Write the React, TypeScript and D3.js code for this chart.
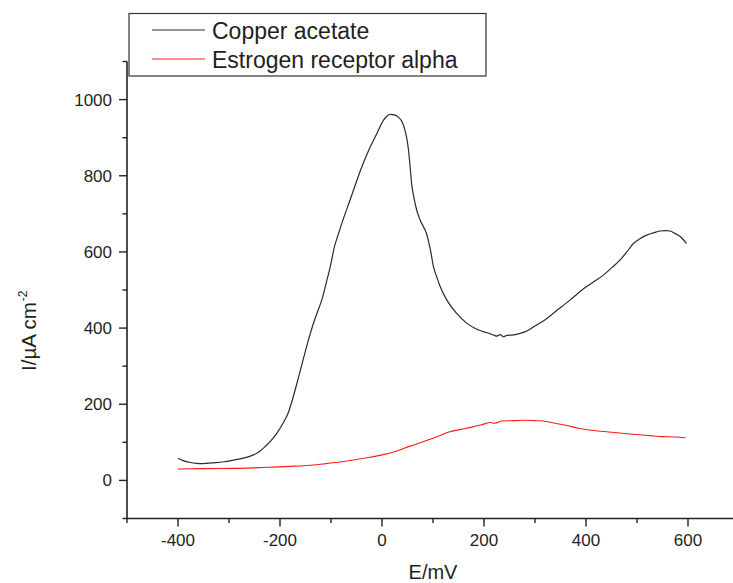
import React from "react";
import * as d3 from "d3";

const copperE = [-400, -390, -375, -364, -350, -334, -310, -289, -270, -252, -240, -229, -218, -206, -195, -184, -175, -165, -155, -145, -135, -125, -118, -110, -100, -93, -86, -75, -63, -50, -37, -24, -10, 3, 10, 16, 24, 32, 40, 45, 49, 52, 55, 58, 63, 68, 75, 88, 95, 101, 108, 114, 127, 146, 166, 186, 200, 212, 220, 225, 232, 238, 245, 258, 271, 285, 303, 320, 336, 352, 369, 385, 401, 418, 434, 450, 467, 480, 493, 505, 519, 532, 545, 555, 565, 575, 584, 591, 597];
const copperI = [58, 52, 47, 45, 44, 46, 49, 54, 59, 67, 76, 89, 104, 124, 148, 177, 215, 264, 315, 365, 410, 448, 474, 515, 570, 615, 645, 690, 735, 785, 832, 873, 911, 946, 957, 961, 960, 954, 940, 920, 895, 867, 825, 780, 740, 710, 683, 645, 605, 561, 532, 509, 474, 439, 413, 397, 390, 385, 381, 379, 383, 377, 381, 382, 386, 393, 408, 422, 439, 456, 474, 492, 509, 524, 539, 558, 579, 600, 622, 634, 644, 650, 655, 656, 655, 648, 641, 632, 622];

const estrogenE = [-400, -350, -289, -250, -214, -180, -147, -110, -79, -50, -27, 0, 26, 55, 86, 110, 131, 155, 176, 195, 213, 220, 235, 260, 280, 300, 310, 340, 360, 385, 415, 445, 475, 505, 530, 550, 575, 595];
const estrogenI = [30, 31, 31.5, 33, 35, 37, 39, 44, 49, 55, 60, 67, 76, 90, 104, 116, 127, 134, 140, 146, 152, 150, 156, 157, 158, 157, 156.5, 150, 145, 137, 131, 127, 123, 120, 117, 115, 114, 112];

const xMajorTicks = [-400, -200, 0, 200, 400, 600];
const xMinorTicks = [-500, -300, -100, 100, 300, 500, 700];
const yMajorTicks = [0, 200, 400, 600, 800, 1000];
const yMinorTicks = [-100, 100, 300, 500, 700, 900, 1100];

const seriesNames = ["Copper acetate", "Estrogen receptor alpha"];
const seriesColors = ["#2b2b2b", "#ff1a1a"];

const FONT = "'Liberation Sans', Arial, sans-serif";
const TXT = "#231f20";

export default function App() {
  const x = d3.scaleLinear().domain([-500, 700]).range([127, 739]);
  const y = d3.scaleLinear().domain([-100, 1100]).range([518.5, 61.5]);
  const line = d3
    .line<[number, number]>()
    .x((d) => x(d[0]))
    .y((d) => y(d[1]))
    .curve(d3.curveMonotoneX);

  const copper: [number, number][] = copperE.map((e, i) => [e, copperI[i]]);
  const estrogen: [number, number][] = estrogenE.map((e, i) => [e, estrogenI[i]]);

  const x0 = x(-500);
  const yb = y(-100);
  const yt = y(1100);

  return (
    <svg
      width={733}
      height={583}
      style={{ position: "absolute", left: 0, top: 0, background: "#fff" }}
      fontFamily={FONT}
    >
      <rect x={0} y={0} width={733} height={583} fill="#fff" />
      <path d={line(estrogen) || ""} fill="none" stroke={seriesColors[1]} strokeWidth={1.1} />
      <path d={line(copper) || ""} fill="none" stroke={seriesColors[0]} strokeWidth={1.2} />

      {/* axes */}
      <line x1={x0} x2={x0} y1={yt} y2={yb} stroke="#222" strokeWidth={1.6} />
      <line x1={x0} x2={760} y1={yb} y2={yb} stroke="#222" strokeWidth={1.6} />

      {xMajorTicks.map((t) => (
        <g key={"xm" + t}>
          <line x1={x(t)} x2={x(t)} y1={yb} y2={yb + 8} stroke="#222" strokeWidth={1.4} />
          <text x={x(t)} y={546} textAnchor="middle" fontSize={17} fill={TXT}>
            {t}
          </text>
        </g>
      ))}
      {xMinorTicks.map((t) => (
        <line key={"xn" + t} x1={x(t)} x2={x(t)} y1={yb} y2={yb + 4.5} stroke="#222" strokeWidth={1.4} />
      ))}
      {yMajorTicks.map((t) => (
        <g key={"ym" + t}>
          <line x1={x0} x2={x0 - 8} y1={y(t)} y2={y(t)} stroke="#222" strokeWidth={1.4} />
          <text x={112} y={y(t) + 6} textAnchor="end" fontSize={17} fill={TXT}>
            {t}
          </text>
        </g>
      ))}
      {yMinorTicks.map((t) => (
        <line key={"yn" + t} x1={x0} x2={x0 - 4.5} y1={y(t)} y2={y(t)} stroke="#222" strokeWidth={1.4} />
      ))}

      {/* axis titles */}
      <text x={433} y={579} textAnchor="middle" fontSize={20} fill={TXT}>
        E/mV
      </text>
      <text transform="translate(36,371) rotate(-90)" textAnchor="start" fontSize={20.5} fill={TXT}>
        I/µA cm
        <tspan fontSize={12} dy={-9} dx={1}>
          -2
        </tspan>
      </text>

      {/* legend */}
      <rect x={129} y={13.5} width={357} height={62.5} fill="#fff" stroke="#333" strokeWidth={1.2} />
      {seriesNames.map((n, i) => (
        <g key={n}>
          <line x1={152} x2={205} y1={30 + i * 29} y2={30 + i * 29} stroke={seriesColors[i]} strokeWidth={1.2} />
          <text x={212} y={39 + i * 29} fontSize={23} fill={TXT}>
            {n}
          </text>
        </g>
      ))}
    </svg>
  );
}
